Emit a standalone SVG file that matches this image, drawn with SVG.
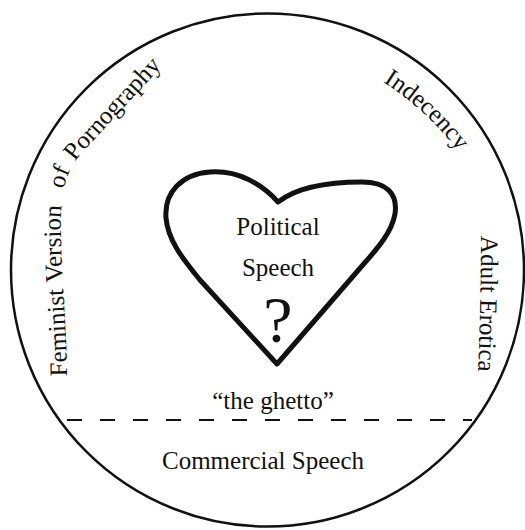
<svg xmlns="http://www.w3.org/2000/svg" width="525" height="530" viewBox="0 0 525 530">
  <style>
    .lbl { font-family: "Liberation Serif", "Times New Roman", serif; font-size: 25px; fill: #111; }
    .mid { text-anchor: middle; }
    .outline { fill: none; stroke: #111; }
  </style>
  <defs>
    <path id="arc-feminist" d="M 67,382 C 67,330 60,260 61,215 C 62,190 66,172 80,155 L 172,55"/>
    <path id="arc-indecency" d="M 383,82 A 280 280 0 0 1 472,172"/>
    <path id="arc-adult" d="M 481,236 Q 481,310 477,395"/>
  </defs>
  <rect width="525" height="530" fill="#fff"/>

  <g id="outer-circle">
    <circle class="outline" cx="267.5" cy="270" r="256.5" stroke-width="2.5"/>
  </g>

  <g id="connectors">
    <line x1="67" y1="420" x2="472" y2="420" stroke="#111" stroke-width="2" stroke-dasharray="15 18"/>
  </g>

  <g id="heart">
    <path class="outline" stroke-width="5" stroke-linejoin="round" d="M 278,202 C 262,184 238,170 210,172 C 182,174 164,192 166,218 C 168,240 182,258 200,280 L 277,364 L 355,274 C 372,254 391,236 395,214 C 398,193 386,182 362,182 C 326,182 296,188 278,202 Z"/>
    <text class="lbl mid" x="278" y="235">Political</text>
    <text class="lbl mid" x="278" y="276">Speech</text>
    <text class="lbl mid" x="278" y="342" style="font-size:66px">?</text>
  </g>

  <g id="feminist">
    <text class="lbl"><textPath href="#arc-feminist" startOffset="6">Feminist</textPath></text>
    <text class="lbl"><textPath href="#arc-feminist" startOffset="100">Version</textPath></text>
    <text class="lbl"><textPath href="#arc-feminist" startOffset="193">of</textPath></text>
    <text class="lbl"><textPath href="#arc-feminist" startOffset="223">Pornography</textPath></text>
  </g>

  <g id="indecency">
    <text class="lbl"><textPath href="#arc-indecency" startOffset="0">Indecency</textPath></text>
  </g>

  <g id="adult-erotica">
    <text class="lbl"><textPath href="#arc-adult" startOffset="0">Adult Erotica</textPath></text>
  </g>

  <g id="ghetto">
    <text class="lbl mid" x="273" y="409">“the ghetto”</text>
  </g>

  <g id="commercial">
    <text class="lbl mid" x="263" y="469">Commercial Speech</text>
  </g>
</svg>
